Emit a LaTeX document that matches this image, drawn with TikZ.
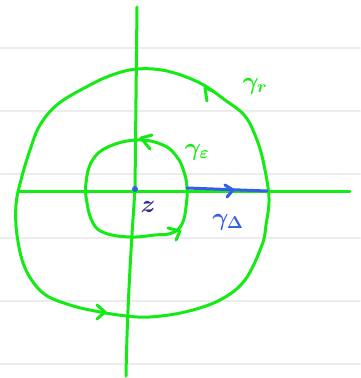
\documentclass[tikz,border=0pt]{standalone}
\usepackage{tikz}
\begin{document}
\begin{tikzpicture}[x=1pt,y=-1pt,line cap=round,line join=round,
  ink/.style={draw=gr,line width=3pt},
  bink/.style={draw=bl,line width=3pt},
  rule/.style={draw=rl,line width=1.6pt},
  lab/.style={inner sep=0pt,font=\fontsize{24}{24}\selectfont\boldmath}]
\definecolor{gr}{RGB}{20,235,20}
\definecolor{bl}{RGB}{50,95,230}
\definecolor{zc}{RGB}{45,45,140}
\definecolor{rl}{RGB}{236,236,236}
\useasboundingbox (0,0) rectangle (360,378);
\fill[white] (0,0) rectangle (360,378);
% notebook rules
\foreach \y in {48,111,174,238,301,364} \draw[rule] (0,\y) -- (360,\y);
% axes
\coordinate (xl) at (18,191);
\coordinate (xr) at (350,191);
\coordinate (yt) at (137,7);
\coordinate (ym) at (135,190);
\coordinate (yb) at (126,376);
\draw[ink] (xl) -- (xr);
\draw[ink] (yt) -- (ym) .. controls (130,260) and (127,320) .. (yb);
% outer contour gamma_r
\draw[ink] plot[smooth cycle,tension=0.6] coordinates {
 (137,69) (167,71) (200,83) (225,100) (245,116) (257,140) (264,165) (269,198)
 (266,225) (262,245) (245,280) (220,300) (185,312) (150,317) (127,316) (100,312)
 (70,305) (43,293) (25,268) (17,235) (16,205) (21,180) (30,150) (40,125)
 (58,104) (88,86) (112,75)};
% inner contour gamma_eps
\draw[ink] plot[smooth cycle,tension=0.7] coordinates {
 (137,140) (163,145) (177,157) (184,172) (187,188) (186,207) (182,224) (172,233)
 (155,235) (130,237) (105,233) (93,223) (87,203) (86,183) (92,161) (108,147)};
% arrows on contours
\draw[ink] (213,91) -- (205,88) -- (207,101);
\draw[ink] (97,305) -- (105,312) -- (97,319);
\draw[ink] (152,135) -- (141,138) -- (150,149);
\draw[ink] (168,228) -- (180,231) -- (176,240);
% gamma_Delta segment
\coordinate (d0) at (187,188);
\coordinate (d1) at (267,191);
\draw[bink] (d0) -- (d1);
\draw[bink] (225,185) -- (233,190) -- (227,197);
% centre point
\node[circle,fill=bl,inner sep=0pt,minimum size=6pt] (zp) at (135,189) {};
% labels
\node[lab,text=zc] (zl) at (148,207) {$z$};
\node[lab,text=bl] (gd) at (228,222) {$\gamma_\Delta$};
\node[lab,text=gr] (ge) at (197,152) {$\gamma_\varepsilon$};
\node[lab,text=gr] (grr) at (255,86) {$\gamma_r$};
\end{tikzpicture}
\end{document}
